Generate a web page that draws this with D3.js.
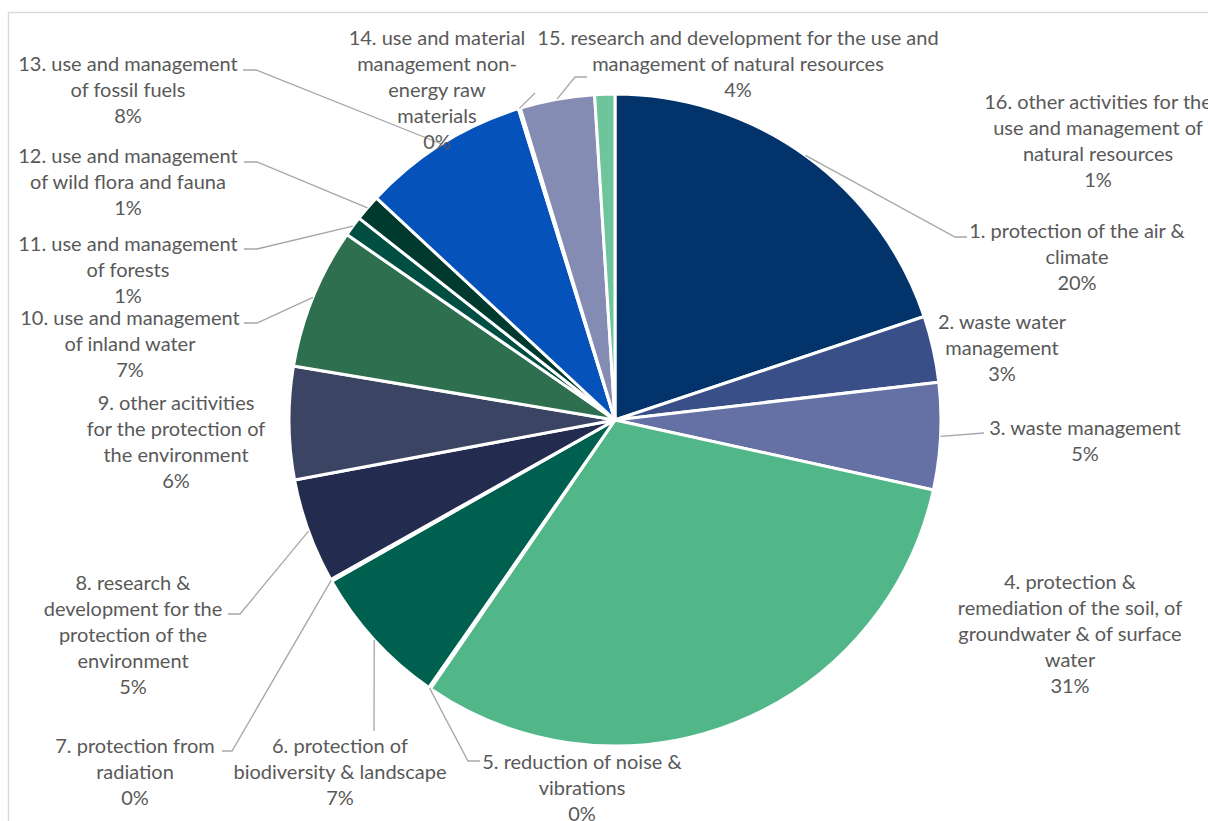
<!DOCTYPE html>
<html>
<head>
<meta charset="utf-8">
<script src="https://cdn.jsdelivr.net/npm/d3@7"></script>
<style>
    body { margin: 0; background: #fff; }
    svg { display: block; }
    .label { font-family: Lato, "Open Sans", sans-serif; font-size: 20px; fill: #595959; }
    .leader { fill: none; stroke: #A6A6A6; stroke-width: 1.3; }
</style>
</head>
<body>
<div id="chart"></div>
<script>
// slice names, in drawing order (clockwise from 12 o'clock)
const categories = [
    "1. protection of the air & climate",
    "2. waste water management",
    "3. waste management",
    "4. protection & remediation of the soil, of groundwater & of surface water",
    "5. reduction of noise & vibrations",
    "6. protection of biodiversity & landscape",
    "7. protection from radiation",
    "8. research & development for the protection of the environment",
    "9. other acitivities for the protection of the environment",
    "10. use and management of inland water",
    "11. use and management of forests",
    "12. use and management of wild flora and fauna",
    "13. use and management of fossil fuels",
    "14. use and material management non-energy raw materials",
    "15. research and development for the use and management of natural resources",
    "16. other activities for the use and management of natural resources"
];

// shares (percent)
const values = [19.9, 3.3, 5.3, 31.2, 0.1, 7.1, 0.1, 5.2, 5.6, 7.0, 1.0, 1.3, 8.3, 0.1, 3.7, 1.0];

// wrapped label text as shown on the chart
const labelLines = [
    ["1. protection of the air &", "climate"],
    ["2. waste water", "management"],
    ["3. waste management"],
    ["4. protection &", "remediation of the soil, of", "groundwater & of surface", "water"],
    ["5. reduction of noise &", "vibrations"],
    ["6. protection of", "biodiversity & landscape"],
    ["7. protection from", "radiation"],
    ["8. research &", "development for the", "protection of the", "environment"],
    ["9. other acitivities", "for the protection of", "the environment"],
    ["10. use and management", "of inland water"],
    ["11. use and management", "of forests"],
    ["12. use and management", "of wild flora and fauna"],
    ["13. use and management", "of fossil fuels"],
    ["14. use and material", "management non-", "energy raw", "materials"],
    ["15. research and development for the use and", "management of natural resources"],
    ["16. other activities for the", "use and management of", "natural resources"]
];

const colors = ["#03336B", "#3A4F88", "#6571A4", "#52B788", "#4A8F6E", "#006050", "#2B3A66", "#232C4F",
    "#3C4463", "#2E6F50", "#004F42", "#003A2F", "#0553BA", "#5A6FA8", "#848CB3", "#6FC59B"];

// label layout: text centre x, first line centre y
const labelPos = [
    [1077, 230], [1002, 321], [1085, 427], [1070, 581], [582, 761], [340, 745], [135, 745], [133, 582],
    [176, 402], [130, 317], [128, 243], [128, 155], [128, 63], [437, 37], [738, 37], [1098, 101]
];

// leader line bends (after the point on the pie edge); null = no leader
const leaders = [
    [[955, 237], [967, 237]],
    null,
    [[984, 433]],
    null,
    [[468, 761], [480, 761]],
    [[374, 731]],
    [[232, 751], [222, 751]],
    [[240, 614], [228, 614]],
    null,
    [[257, 323], [244, 323]],
    [[257, 249], [244, 249]],
    [[257, 162], [244, 162]],
    [[256, 70], [243, 70]],
    [[535, 93]],
    [[575, 77], [587, 77]],
    null
];

const WIDTH = 1208;
const HEIGHT = 821;
const cx = 615, cy = 420, radius = 326;
const lineHeight = 26;

const svg = d3.select("#chart").append("svg")
    .attr("width", WIDTH)
    .attr("height", HEIGHT);

// chart area frame
svg.append("rect")
    .attr("x", 8.5).attr("y", 12.5)
    .attr("width", WIDTH + 20).attr("height", HEIGHT + 20)
    .attr("fill", "none")
    .attr("stroke", "#D9D9D9")
    .attr("stroke-width", 1.5);

const total = d3.sum(values);
const pct = d3.format(".0%");

const pie = d3.pie().sort(null).value(d => d)(values);

const arc = d3.arc().innerRadius(0).outerRadius(radius);

const g = svg.append("g").attr("transform", "translate(" + cx + "," + cy + ")");

g.selectAll("path.slice")
    .data(pie)
    .enter().append("path")
    .attr("class", "slice")
    .attr("d", arc)
    .attr("fill", (d, i) => colors[i])
    .attr("stroke", "#fff")
    .attr("stroke-width", 3)
    .attr("stroke-linejoin", "round");

// leader lines: from the slice's outer edge at its mid angle to the label
const line = d3.line();
pie.forEach(function(d, i) {
    if (!leaders[i]) return;
    const a = (d.startAngle + d.endAngle) / 2;
    const start = [cx + radius * Math.sin(a), cy - radius * Math.cos(a)];
    svg.append("path")
        .attr("class", "leader")
        .attr("d", line([start].concat(leaders[i])));
});

// labels
const labels = svg.selectAll("text.label")
    .data(pie)
    .enter().append("text")
    .attr("class", "label")
    .attr("text-anchor", "middle")
    .attr("x", (d, i) => labelPos[i][0])
    .attr("y", (d, i) => labelPos[i][1]);

labels.each(function(d, i) {
    const t = d3.select(this);
    const rows = labelLines[i].concat([pct(d.value / total)]);
    rows.forEach(function(r, j) {
        t.append("tspan")
            .attr("x", labelPos[i][0])
            .attr("y", labelPos[i][1] + j * lineHeight)
            .attr("dominant-baseline", "central")
            .text(r);
    });
});
</script>
</body>
</html>
